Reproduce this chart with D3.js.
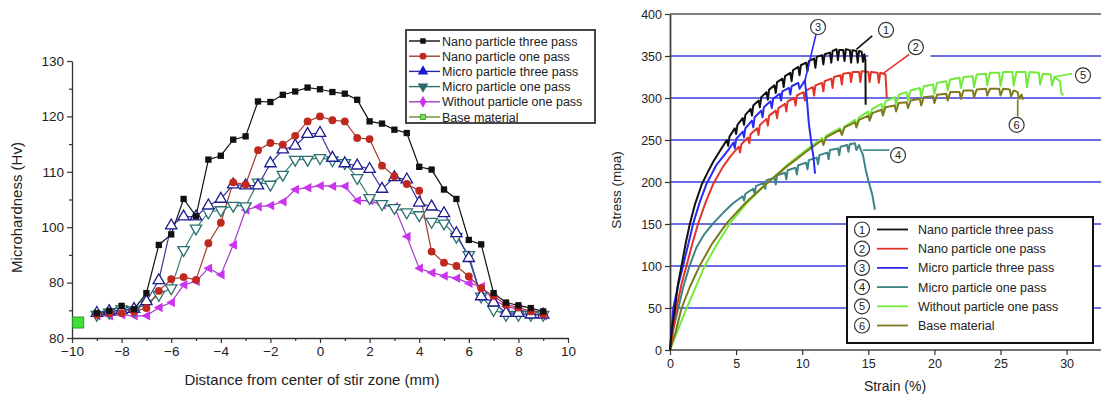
<!DOCTYPE html>
<html>
<head>
<meta charset="utf-8">
<script src="https://cdn.jsdelivr.net/npm/d3@7"></script>
<style>
  html, body { margin: 0; padding: 0; background: #fff; }
  svg { display: block; font-family: "Liberation Sans", Arial, sans-serif; }
</style>
</head>
<body>
<div id="chart"></div>
<script>
// ---- left panel: microhardness profiles ----
const distances = [-9, -8.5, -8, -7.5, -7, -6.5, -6, -5.5, -5, -4.5, -4, -3.5, -3, -2.5, -2, -1.5, -1, -0.5,
  0, 0.5, 1, 1.5, 2, 2.5, 3, 3.5, 4, 4.5, 5, 5.5, 6, 6.5, 7, 7.5, 8, 8.5, 9];
const nanoThree = [84.5, 84.9, 85.8, 85.2, 88.1, 96.8, 98.7, 105.1, 102.0, 112.2, 112.9, 115.8, 116.4, 122.7, 122.6, 123.9, 124.5, 125.2,
  124.9, 124.4, 124.1, 123.0, 119.1, 118.7, 117.6, 117.0, 110.9, 110.4, 106.8, 105.1, 97.7, 96.9, 88.1, 86.4, 85.9, 85.4, 84.8];
const nanoOne = [84.2, 84.5, 84.5, 84.8, 85.4, 88.5, 90.6, 91.0, 90.5, 97.1, 100.8, 108.1, 107.7, 113.9, 115.2, 114.9, 116.5, 119.1,
  120.0, 119.3, 119.1, 116.1, 115.9, 111.1, 109.2, 107.8, 106.6, 95.6, 93.6, 93.0, 91.1, 89.0, 87.6, 86.0, 85.5, 84.8, 84.3];
const microThree = [84.5, 84.8, 85.0, 85.2, 86.6, 90.4, 100.3, 101.9, 101.9, 103.9, 105.1, 107.7, 107.5, 107.5, 111.5, 114.0, 114.7, 116.8,
  117.0, 112.5, 111.5, 111.1, 110.5, 106.9, 109.0, 108.6, 104.4, 103.7, 102.5, 98.9, 94.4, 87.5, 86.4, 84.5, 84.5, 84.2, 84.2];
const microOne = [84.2, 84.6, 85.2, 85.0, 86.2, 87.8, 89.0, 95.9, 99.8, 102.7, 103.1, 103.9, 103.8, 108.1, 107.7, 109.5, 112.2, 112.2,
  112.5, 112.1, 111.6, 108.9, 105.3, 104.2, 103.5, 102.7, 102.2, 101.0, 100.7, 98.3, 95.0, 87.5, 85.1, 84.2, 84.2, 84.2, 84.2];
const withoutOne = [84.0, 84.0, 84.2, 84.0, 84.0, 85.5, 86.4, 89.6, 90.2, 92.6, 91.4, 96.8, 103.1, 103.7, 103.9, 104.6, 106.8, 107.1,
  107.5, 107.4, 107.4, 104.8, 104.8, 104.0, 103.7, 98.3, 92.6, 91.8, 91.2, 90.8, 89.9, 89.3, 86.9, 85.7, 85.2, 84.5, 84.0];
const baseDistance = [-9.75];
const baseHardness = [82.8];

const hardSeriesNames = ['Nano particle three pass', 'Nano particle one pass', 'Micro particle three pass',
  'Micro particle one pass', 'Without particle one pass', 'Base material'];
const hardTickValues = [80, 90, 100, 110, 120, 130];
const hardTickLabels = ['80', '80', '100', '110', '120', '130'];
const distTickValues = [-10, -8, -6, -4, -2, 0, 2, 4, 6, 8, 10];
const distMinorTicks = [-9, -7, -5, -3, -1, 1, 3, 5, 7, 9];
const hardMinorTicks = [85, 95, 105, 115, 125];

// ---- right panel: stress-strain curves [strain %, stress MPa] ----
const curveNanoThree = [[0,0],[0.15,25],[0.38,50],[0.6,78],[0.88,101],[1.2,128],[1.5,150],[1.9,174],[2.4,197],[2.8,210],[3.3,225],[3.9,240],
  [4.3,250],[4.4,243],[4.5,254],[4.9,264],[5.0,257],[5.1,268],[5.5,276],[5.6,268],[5.7,280],[6.1,287],[6.2,279],[6.3,291],[6.7,297],[6.8,289],
  [6.9,301],[7.3,307],[7.4,298],[7.5,310],[7.9,315],[8.0,306],[8.1,319],[8.5,323],[8.6,313],[8.7,326],[9.1,330],[9.2,320],[9.3,333],[9.7,337],
  [9.8,327],[9.9,339],[10.3,342],[10.4,332],[10.5,344],[10.9,347],[11.0,336],[11.1,349],[11.5,351],[11.6,340],[11.7,352],[12.1,354],[12.2,342],
  [12.3,356],[12.6,358],[12.7,345],[12.8,357],[13.1,357],[13.2,344],[13.3,358],[13.6,357],[13.7,342],[13.8,357],[14.1,356],[14.2,342],[14.3,356],
  [14.5,355],[14.6,343],[14.7,352],[14.78,345],[14.8,292]];
const curveNanoOne = [[0,0],[0.2,20],[0.5,50],[0.85,77],[1.26,101],[1.7,127],[2.14,151],[2.7,176],[3.28,198],[4.0,218],[4.6,231],[5.2,242],
  [5.3,235],[5.4,245],[5.9,253],[6.0,246],[6.1,257],[6.6,264],[6.7,256],[6.8,268],[7.3,275],[7.4,267],[7.5,279],[8.0,285],[8.1,276],[8.2,288],
  [8.7,293],[8.8,284],[8.9,296],[9.4,300],[9.5,291],[9.6,303],[10.1,307],[10.2,297],[10.3,309],[10.8,313],[10.9,303],[11.0,315],[11.5,318],
  [11.6,308],[11.7,320],[12.2,323],[12.3,312],[12.4,325],[12.9,327],[13.0,316],[13.1,329],[13.6,330],[13.7,319],[13.8,331],[14.3,331],[14.4,319],
  [14.5,332],[15.0,331],[15.1,319],[15.2,331],[15.7,330],[15.8,318],[15.9,330],[16.3,328],[16.4,300]];
const curveMicroThree = [[0,0],[0.25,50],[0.6,76],[1.0,101],[1.4,127],[1.76,151],[2.25,176],[2.77,198],[3.5,220],[4.4,238],[4.8,247],[4.9,240],
  [5.0,251],[5.5,260],[5.6,253],[5.7,264],[6.2,273],[6.3,265],[6.4,277],[6.9,285],[7.0,277],[7.1,289],[7.6,296],[7.7,288],[7.8,299],[8.3,305],
  [8.4,297],[8.5,308],[9.0,312],[9.1,304],[9.2,314],[9.7,318],[9.8,311],[10.2,321],[10.35,300],[10.5,270],[10.6,258],[10.75,240],[10.85,230],
  [10.97,210]];
const curveMicroOne = [[0,0],[0.25,25],[0.63,50],[1.0,75],[1.5,101],[2.0,122],[2.6,138],[3.28,151],[4.0,163],[4.79,175],[5.5,183],[5.6,178],
  [5.7,186],[6.3,192],[6.4,186],[6.5,195],[7.1,199],[7.2,192],[7.3,202],[7.9,205],[8.0,197],[8.1,208],[8.7,211],[8.8,203],[8.9,214],[9.5,217],
  [9.6,209],[9.7,220],[10.3,223],[10.4,215],[10.5,226],[11.1,229],[11.2,221],[11.3,232],[11.9,235],[12.0,227],[12.1,238],[12.7,240],[12.8,232],
  [12.9,242],[13.4,244],[13.5,236],[13.6,245],[14.0,246],[14.1,238],[14.3,244],[14.6,232],[14.8,215],[15.0,202],[15.3,185],[15.5,167]];
const curveWithout = [[0,0],[0.5,20],[1.26,50],[2.0,77],[2.65,101],[3.6,127],[4.54,151],[5.8,175],[7.3,198],[8.7,218],[10.3,238],[11.5,252],
  [11.6,246],[11.8,255],[12.86,264],[13.0,258],[13.2,266],[14.0,274],[14.1,267],[14.3,277],[15.0,284],[15.1,277],[15.3,287],[16.0,293],[16.1,285],
  [16.3,296],[17.0,301],[17.1,292],[17.3,304],[17.9,307],[18.0,297],[18.2,309],[18.9,312],[19.0,302],[19.2,314],[19.9,316],[20.0,305],[20.2,318],
  [20.9,320],[21.0,309],[21.2,322],[21.9,324],[22.0,312],[22.2,325],[22.9,326],[23.0,313],[23.2,328],[23.9,329],[24.0,315],[24.2,330],[24.9,330],
  [25.0,314],[25.2,331],[25.9,331],[26.0,315],[26.2,331],[26.9,331],[27.0,313],[27.2,331],[27.9,330],[28.0,316],[28.2,329],[28.8,328],[28.9,315],
  [29.1,325],[29.5,320],[29.6,306],[29.75,303]];
const curveBase = [[0,0],[0.4,20],[0.88,50],[1.5,75],[2.27,101],[3.2,127],[4.29,151],[5.7,175],[7.3,198],[8.8,218],[10.3,236],[11.5,250],
  [11.6,244],[11.8,253],[12.86,262],[13.0,256],[13.2,265],[14.0,271],[14.1,265],[14.3,274],[15.0,279],[15.1,273],[15.3,282],[16.0,286],[16.1,279],
  [16.3,289],[17.0,291],[17.1,284],[17.3,294],[17.9,295],[18.0,288],[18.2,297],[18.9,299],[19.0,291],[19.2,301],[19.9,302],[20.0,294],[20.2,304],
  [20.9,305],[21.0,297],[21.2,307],[21.9,307],[22.0,299],[22.2,309],[22.9,309],[23.0,301],[23.2,310],[23.9,311],[24.0,303],[24.2,311],[24.9,311],
  [25.0,303],[25.2,311],[25.7,310],[25.8,302],[26.0,309],[26.3,307],[26.4,299],[26.6,304],[26.7,298]];

const strainTicks = [0, 5, 10, 15, 20, 25, 30];
const stressTicks = [0, 50, 100, 150, 200, 250, 300, 350, 400];
const gridStress = [50, 100, 150, 200, 250, 300, 350];
// numbered callouts: circle centre and leader line, in data units
const calloutNums = [1, 2, 3, 4, 5, 6];
const calloutAt = [[16.34, 381], [18.6, 360.5], [11.2, 384.5], [17.25, 232], [31.24, 327], [26.22, 268]];
const calloutLeader = [[[14.1, 358], [15.3, 374]], [[16.1, 329], [18.1, 352]], [[10.2, 320], [11.05, 376]],
  [[14.6, 238], [16.6, 238]], [[29.0, 325], [30.4, 329]], [[26.3, 298], [26.3, 278]]];

const W = 1101, H = 394;
const svg = d3.select('#chart').append('svg').attr('width', W).attr('height', H);

// ================= LEFT =================
const xL = d3.scaleLinear().domain([-10, 10]).range([72, 568]);
const yL = d3.scaleLinear().domain([80, 130]).range([338, 61]);
const left = svg.append('g');

const styleAxis = (g, size) => {
  g.selectAll('.domain').attr('stroke', '#333').attr('stroke-width', 1.3);
  g.selectAll('.tick line').attr('stroke', '#333').attr('stroke-width', 1.2);
  g.selectAll('.tick text').attr('fill', '#222').style('font-size', size);
};

left.append('g').attr('transform', `translate(0,${yL(80)})`)
  .call(d3.axisBottom(xL).tickValues(distMinorTicks).tickSize(3).tickFormat(''))
  .call(g => g.select('.domain').remove())
  .call(g => styleAxis(g, '13px'));
left.append('g').attr('transform', `translate(0,${yL(80)})`)
  .call(d3.axisBottom(xL).tickValues(distTickValues).tickSize(5).tickSizeOuter(0).tickPadding(3).tickFormat(d3.format('d')))
  .call(g => styleAxis(g, '13.5px'));
left.append('g').attr('transform', `translate(${xL(-10)},0)`)
  .call(d3.axisLeft(yL).tickValues(hardMinorTicks).tickSize(3).tickFormat(''))
  .call(g => g.select('.domain').remove())
  .call(g => styleAxis(g, '13px'));
left.append('g').attr('transform', `translate(${xL(-10)},0)`)
  .call(d3.axisLeft(yL).tickValues(hardTickValues).tickSize(5).tickSizeOuter(0).tickPadding(3)
    .tickFormat((d, i) => hardTickLabels[i]))
  .call(g => styleAxis(g, '13.5px'));

left.append('text').attr('transform', `translate(22,${(yL(80) + yL(130)) / 2 + 8}) rotate(-90)`)
  .attr('text-anchor', 'middle').style('font-size', '15px').attr('fill', '#222').text('Microhardness (Hv)');
left.append('text').attr('x', 312).attr('y', 385)
  .attr('text-anchor', 'middle').style('font-size', '15px').attr('fill', '#222').text('Distance from center of stir zone (mm)');

const sym = (type, size) => d3.symbol().type(type).size(size)();
const triLeft = r => `M${-r},0L${r * 0.75},${-r * 0.95}L${r * 0.75},${r * 0.95}Z`;

const hardSeries = [
  { vals: nanoThree, line: '#111', mark: 'sq' },
  { vals: nanoOne, line: '#a33a2a', mark: 'ci' },
  { vals: microThree, line: '#35359a', mark: 'tu' },
  { vals: microOne, line: '#3a7f7e', mark: 'td' },
  { vals: withoutOne, line: '#a43cc8', mark: 'tl' },
];
const lineL = d3.line().x((d, i) => xL(distances[i])).y(d => yL(d));

// back to front: magenta, teal, blue, red, black
[4, 3, 2, 1, 0].forEach(k => {
  const s = hardSeries[k];
  left.append('path').datum(s.vals).attr('d', lineL)
    .attr('fill', 'none').attr('stroke', s.line).attr('stroke-width', 1.2);
});
[4, 3, 2, 1, 0].forEach(k => {
  const s = hardSeries[k];
  const g = left.append('g');
  const pts = g.selectAll('path').data(s.vals).join('path')
    .attr('transform', (d, i) => `translate(${xL(distances[i])},${yL(d)})`);
  if (s.mark === 'sq') pts.attr('d', sym(d3.symbolSquare, 40)).attr('fill', '#111');
  if (s.mark === 'ci') pts.attr('d', sym(d3.symbolCircle, 48)).attr('fill', '#c0281e');
  if (s.mark === 'tu') pts.attr('d', sym(d3.symbolTriangle, 56)).attr('fill', '#fff').attr('stroke', '#1c1c90').attr('stroke-width', 1.3);
  if (s.mark === 'td') pts.attr('d', sym(d3.symbolTriangle, 56)).attr('transform', (d, i) => `translate(${xL(distances[i])},${yL(d)}) rotate(180)`)
    .attr('fill', '#fff').attr('stroke', '#2a7070').attr('stroke-width', 1.3);
  if (s.mark === 'tl') pts.attr('d', triLeft(5)).attr('fill', '#cc33ee');
});
left.selectAll('rect.base').data(baseHardness).join('rect').attr('class', 'base')
  .attr('x', (d, i) => xL(baseDistance[i]) - 5.5).attr('y', d => yL(d) - 5.5)
  .attr('width', 11).attr('height', 11).attr('fill', '#44e03a').attr('stroke', '#2fa02a').attr('stroke-width', 1);

// left legend
const legL = left.append('g').attr('transform', 'translate(406,30)');
legL.append('rect').attr('width', 189).attr('height', 93).attr('fill', '#fff').attr('stroke', '#333').attr('stroke-width', 1.8);
const legLColors = ['#111', '#a33a2a', '#2a2aa0', '#2f6f6f', '#a43cc8', '#6a8a3a'];
const legMarkFill = ['#111', '#c0281e', '#1a1ad0', '#2a6a6a', '#cc33ee', '#fff'];
hardSeriesNames.forEach((name, i) => {
  const yy = 11 + i * 15.2;
  legL.append('line').attr('x1', 3).attr('x2', 34).attr('y1', yy).attr('y2', yy)
    .attr('stroke', legLColors[i]).attr('stroke-width', 1.4);
  const m = legL.append('path').attr('transform', `translate(17,${yy})`).attr('fill', legMarkFill[i]);
  if (i === 0) m.attr('d', sym(d3.symbolSquare, 30));
  if (i === 1) m.attr('d', sym(d3.symbolCircle, 36));
  if (i === 2) m.attr('d', sym(d3.symbolTriangle, 48));
  if (i === 3) m.attr('d', sym(d3.symbolTriangle, 48)).attr('transform', `translate(17,${yy}) rotate(180)`);
  if (i === 4) m.attr('d', sym(d3.symbolDiamond, 40));
  if (i === 5) m.attr('d', sym(d3.symbolSquare, 26)).attr('fill', '#7ee05a').attr('stroke', '#3aa02a');
  legL.append('text').attr('x', 36).attr('y', yy + 4.5).style('font-size', '12.5px').attr('fill', '#222').text(name);
});

// ================= RIGHT =================
const xR = d3.scaleLinear().domain([0, 30]).range([670, 1066.6]);
const yR = d3.scaleLinear().domain([0, 400]).range([350, 14]);
const right = svg.append('g');

right.selectAll('line.grid').data(gridStress).join('line').attr('class', 'grid')
  .attr('x1', xR(0)).attr('x2', W).attr('y1', d => yR(d)).attr('y2', d => yR(d))
  .attr('stroke', '#3d3ddc').attr('stroke-width', 1.5);
// white backing that breaks the 350 line beside callout 2
right.append('rect').attr('x', xR(15)).attr('y', yR(358)).attr('width', xR(19.7) - xR(15)).attr('height', 14).attr('fill', '#fff');

// frame
right.append('line').attr('x1', xR(0)).attr('x2', W).attr('y1', yR(400)).attr('y2', yR(400)).attr('stroke', '#555').attr('stroke-width', 1.6);
right.append('line').attr('x1', xR(0)).attr('x2', W).attr('y1', yR(0)).attr('y2', yR(0)).attr('stroke', '#444').attr('stroke-width', 1.6);

right.append('g').attr('transform', `translate(${xR(0)},0)`)
  .call(d3.axisLeft(yR).tickValues(stressTicks).tickSize(5).tickSizeOuter(0).tickPadding(3))
  .call(g => styleAxis(g, '12.5px'))
  .call(g => g.select('.domain').attr('stroke', '#444').attr('stroke-width', 1.8));
right.append('g').attr('transform', `translate(0,${yR(0)})`)
  .call(d3.axisBottom(xR).tickValues(strainTicks).tickSize(5).tickSizeOuter(0).tickPadding(4))
  .call(g => styleAxis(g, '12.5px'))
  .call(g => g.select('.domain').remove());

right.append('text').attr('transform', `translate(621,${yR(200) + 8}) rotate(-90)`)
  .attr('text-anchor', 'middle').style('font-size', '13.5px').attr('fill', '#222').text('Stress (mpa)');
right.append('text').attr('x', 895).attr('y', 391)
  .attr('text-anchor', 'middle').style('font-size', '14px').attr('fill', '#222').text('Strain (%)');

const curves = [
  { pts: curveNanoThree, color: '#111111' },
  { pts: curveNanoOne, color: '#e2352a' },
  { pts: curveMicroThree, color: '#2b2bf0' },
  { pts: curveMicroOne, color: '#3d8585' },
  { pts: curveWithout, color: '#72ea3c' },
  { pts: curveBase, color: '#7d7a1c' },
];
const lineR = d3.line().x(d => xR(d[0])).y(d => yR(d[1]));
[3, 4, 5, 1, 2, 0].forEach(k => {
  right.append('path').datum(curves[k].pts).attr('d', lineR)
    .attr('fill', 'none').attr('stroke', curves[k].color).attr('stroke-width', 2).attr('stroke-linejoin', 'round');
});

// callouts
calloutNums.forEach((n, i) => {
  right.append('path').datum(calloutLeader[i]).attr('d', lineR)
    .attr('fill', 'none').attr('stroke', curves[i].color).attr('stroke-width', 1.6);
});
calloutNums.forEach((n, i) => {
  const [cx, cy] = calloutAt[i];
  right.append('circle').attr('cx', xR(cx)).attr('cy', yR(cy)).attr('r', 7.5)
    .attr('fill', '#fff').attr('stroke', '#333').attr('stroke-width', 1.2);
  right.append('text').attr('x', xR(cx)).attr('y', yR(cy) + 4).attr('text-anchor', 'middle')
    .style('font-size', '11px').attr('fill', '#222').text(n);
});

// right legend
const legR = right.append('g').attr('transform', 'translate(847,217)');
legR.append('rect').attr('width', 246).attr('height', 126).attr('fill', '#fff').attr('stroke', '#111').attr('stroke-width', 2);
hardSeriesNames.forEach((name, i) => {
  const yy = 12.5 + i * 19.2;
  legR.append('circle').attr('cx', 15).attr('cy', yy).attr('r', 7.5).attr('fill', '#fff').attr('stroke', '#333').attr('stroke-width', 1.2);
  legR.append('text').attr('x', 15).attr('y', yy + 4).attr('text-anchor', 'middle').style('font-size', '11px').attr('fill', '#222').text(calloutNums[i]);
  legR.append('line').attr('x1', 30).attr('x2', 61).attr('y1', yy).attr('y2', yy)
    .attr('stroke', curves[i].color).attr('stroke-width', 1.8);
  legR.append('text').attr('x', 71).attr('y', yy + 4.5).style('font-size', '12.5px').attr('fill', '#222').text(name);
});
</script>
</body>
</html>
